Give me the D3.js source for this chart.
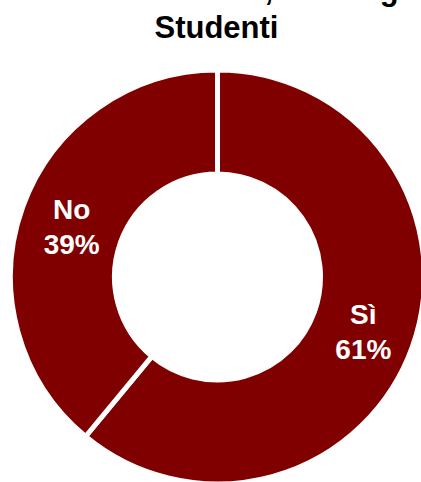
<!DOCTYPE html>
<html>
<head>
<meta charset="utf-8">
<script src="https://cdn.jsdelivr.net/npm/d3@7"></script>
<style>
  html, body { margin: 0; padding: 0; background: #fff; }
  svg { display: block; }
</style>
</head>
<body>
<svg id="chart" width="421" height="482"></svg>
<script>
// Chart data
const titleLines = ["Tirocinio svolto, tutoring", "Studenti"];
const categories = ["Sì", "No"];
const values = [61, 39];

const width = 421, height = 482;
const cx = 217.5, cy = 277;
const outerR = 207, innerR = 103;
const fill = "#800000";

const svg = d3.select("#chart");

// Two-line title; the first line runs off the top edge
const titleBaselines = [0, 38];
svg.selectAll("text.title")
  .data(titleLines)
  .join("text")
  .attr("class", "title")
  .attr("x", cx - 1)
  .attr("y", (d, i) => titleBaselines[i])
  .attr("text-anchor", "middle")
  .attr("font-family", "Liberation Sans, Arial, sans-serif")
  .attr("font-weight", "bold").attr("font-size", 31)
  .attr("fill", "#000")
  .text(d => d);

const data = categories.map((c, i) => ({ cat: c, value: values[i] }));

const pie = d3.pie().value(d => d.value).sort(null);
const arc = d3.arc().innerRadius(innerR).outerRadius(outerR);
const labelArc = d3.arc().innerRadius(105).outerRadius(205);

const g = svg.append("g").attr("transform", `translate(${cx},${cy})`);
const arcs = pie(data);

g.selectAll("path")
  .data(arcs)
  .join("path")
  .attr("d", arc)
  .attr("fill", fill)
  .attr("stroke", "#fff")
  .attr("stroke-width", 5)
  .attr("stroke-linejoin", "miter");

const labels = g.selectAll("text.lbl")
  .data(arcs)
  .join("text")
  .attr("class", "lbl")
  .attr("text-anchor", "middle")
  .attr("font-family", "Liberation Sans, Arial, sans-serif")
  .attr("font-weight", "bold")
  .attr("font-size", 28)
  .attr("fill", "#fff");

labels.each(function(d) {
  const [x, y] = labelArc.centroid(d);
  const t = d3.select(this);
  t.append("tspan").attr("x", x).attr("y", y - 6).text(d.data.cat);
  t.append("tspan").attr("x", x).attr("y", y + 29).text(d.data.value + "%");
});
</script>
</body>
</html>
